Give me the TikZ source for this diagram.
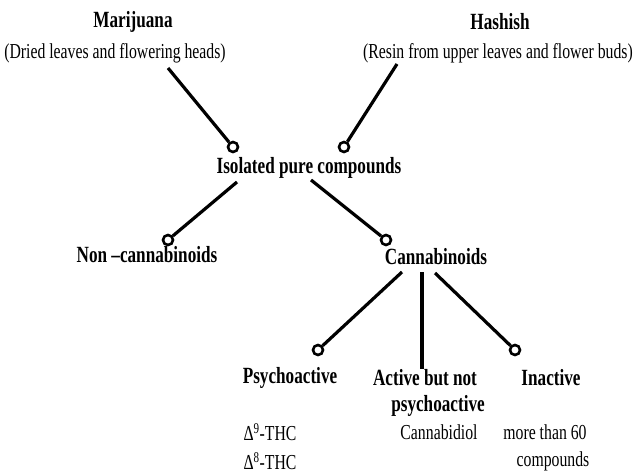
\documentclass[tikz,border=0pt]{standalone}
\usepackage{fontspec}
\setmainfont{Liberation Serif}[FakeStretch=0.74]
\begin{document}
\begin{tikzpicture}[x=1pt,y=-1pt,
  lbl/.style={inner sep=0pt,font=\fontsize{21.3}{23}\selectfont},
  blbl/.style={inner sep=0pt,font=\fontsize{23.2}{25}\selectfont\bfseries},
  dot/.style={circle,draw,line width=2.6pt,minimum size=10pt,inner sep=0pt},
  conn/.style={line width=3.2pt}]
\useasboundingbox (0,0) rectangle (636,473);
% titles
\node[blbl] (mar) at (133,22) {Marijuana};
\node[lbl] (mars) at (115,53) {(Dried leaves and flowering heads)};
\node[blbl] (hash) at (500,22) {Hashish};
\node[lbl] (hashs) at (498,53) {(Resin from upper leaves and flower buds)};
\node[blbl] (iso) at (309,168) {Isolated pure compounds};
\node[blbl] (non) at (147,255) {Non –cannabinoids};
\node[blbl] (can) at (436,257) {Cannabinoids};
\node[blbl] (psy) at (290,378) {Psychoactive};
\node[blbl] (act) at (425,378) {Active but not};
\node[blbl] (act2) at (438,406) {psychoactive};
\node[blbl] (ina) at (551,378) {Inactive};
\node[lbl] (d9) at (270,432) {Δ\textsuperscript{9}-THC};
\node[lbl] (d8) at (270,461) {Δ\textsuperscript{8}-THC};
\node[lbl] (cbd) at (439,432) {Cannabidiol};
\node[lbl] (more) at (545,432) {more than 60};
\node[lbl] (cmp) at (553,461) {compounds};
% connector end circles
\node[dot] (c1) at (233,147) {};
\node[dot] (c2) at (344,147) {};
\node[dot] (c3) at (168,240) {};
\node[dot] (c4) at (386,240) {};
\node[dot] (c5) at (318,350) {};
\node[dot] (c6) at (515,350) {};
% connector start points
\coordinate (m1) at (168,68);
\coordinate (h1) at (397,64);
\coordinate (i1) at (237,182);
\coordinate (i2) at (311,180);
\coordinate (k1) at (402,272);
\coordinate (k2) at (422,272);
\coordinate (k2e) at (422,369);
\coordinate (k3) at (435,273);
\draw[conn] (m1) -- (c1);
\draw[conn] (h1) -- (c2);
\draw[conn] (i1) -- (c3);
\draw[conn] (i2) -- (c4);
\draw[conn] (k1) -- (c5);
\draw[conn] (k2) -- (k2e);
\draw[conn] (k3) -- (c6);
\end{tikzpicture}
\end{document}
